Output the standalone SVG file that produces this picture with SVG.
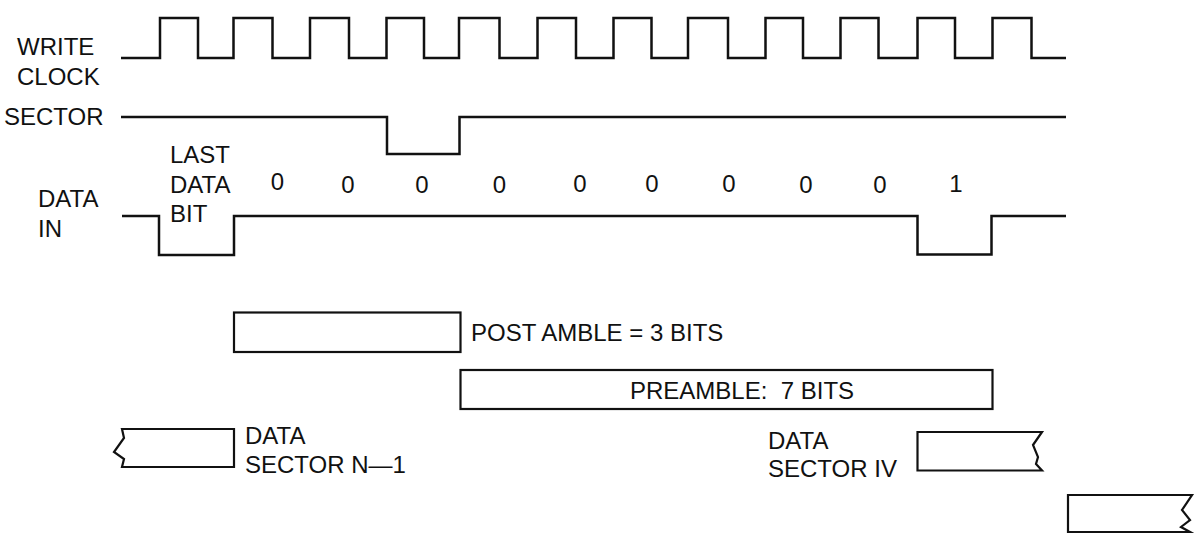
<svg xmlns="http://www.w3.org/2000/svg" width="1201" height="540" viewBox="0 0 1201 540">
<style>
  .t { font-family: "Liberation Sans", Arial, sans-serif; font-size: 24px; fill: #111; }
  .w { fill: none; stroke: #111; stroke-width: 2.5; stroke-linejoin: miter; }
  .b { fill: #fff; stroke: #111; stroke-width: 2.2; stroke-linejoin: miter; }
</style>
<rect width="1201" height="540" fill="#fff"/>
<g id="labels">
  <text class="t" x="17" y="55">WRITE</text>
  <text class="t" x="17" y="85">CLOCK</text>
  <text class="t" x="4" y="125">SECTOR</text>
  <text class="t" x="38" y="207">DATA</text>
  <text class="t" x="38" y="237">IN</text>
</g>
<g id="connectors">
  <path id="write-clock" class="w" d="M121,58 H160 V18 H198 V58 H233.5 V18 H272.5 V58 H310 V18 H349 V58 H386.5 V18 H424 V58 H459 V18 H499.5 V58 H537.5 V18 H576 V58 H613.5 V18 H651.5 V58 H688 V18 H728 V58 H765.5 V18 H803 V58 H840.5 V18 H878.5 V58 H917.5 V18 H955 V58 H992.5 V18 H1031.5 V58 H1066"/>
  <path id="sector" class="w" d="M121,117 H387 V154 H459.5 V117 H1066"/>
  <path id="data-in" class="w" d="M122,216 H159 V255 H234 V216 H917.5 V254.5 H991.5 V216 H1066"/>
</g>
<g id="bits">
  <text class="t" x="170" y="163">LAST</text>
  <text class="t" x="170" y="193">DATA</text>
  <text class="t" x="170" y="222">BIT</text>
  <g text-anchor="middle">
    <text class="t" x="277.5" y="190">0</text>
    <text class="t" x="348" y="193">0</text>
    <text class="t" x="422" y="193">0</text>
    <text class="t" x="499.5" y="193">0</text>
    <text class="t" x="580" y="192">0</text>
    <text class="t" x="652" y="192">0</text>
    <text class="t" x="729" y="192">0</text>
    <text class="t" x="806" y="193">0</text>
    <text class="t" x="880" y="193">0</text>
    <text class="t" x="956" y="192">1</text>
  </g>
</g>
<g id="postamble">
  <rect class="b" x="234" y="312.5" width="226.5" height="39.5"/>
  <text class="t" x="471" y="341">POST AMBLE = 3 BITS</text>
</g>
<g id="preamble">
  <rect class="b" x="460.5" y="370" width="532" height="39"/>
  <text class="t" x="630" y="399">PREAMBLE:&#160; 7 BITS</text>
</g>
<g id="sector-n-1">
  <path class="b" d="M122,429 H234 V467 H122 L124,459 L114,452 L124,438 Z"/>
  <text class="t" x="245" y="444">DATA</text>
  <text class="t" x="245" y="473">SECTOR N—1</text>
</g>
<g id="sector-iv">
  <path class="b" d="M1042,432 H917.5 V470.5 H1042 L1036,464 L1038,457 L1033,445 Z"/>
  <text class="t" x="768" y="449">DATA</text>
  <text class="t" x="768" y="477">SECTOR IV</text>
</g>
<g id="next-sector">
  <path class="b" d="M1192,495 H1068 V532 H1190 L1181,527 L1190,520 L1182,510 Z"/>
</g>
</svg>
